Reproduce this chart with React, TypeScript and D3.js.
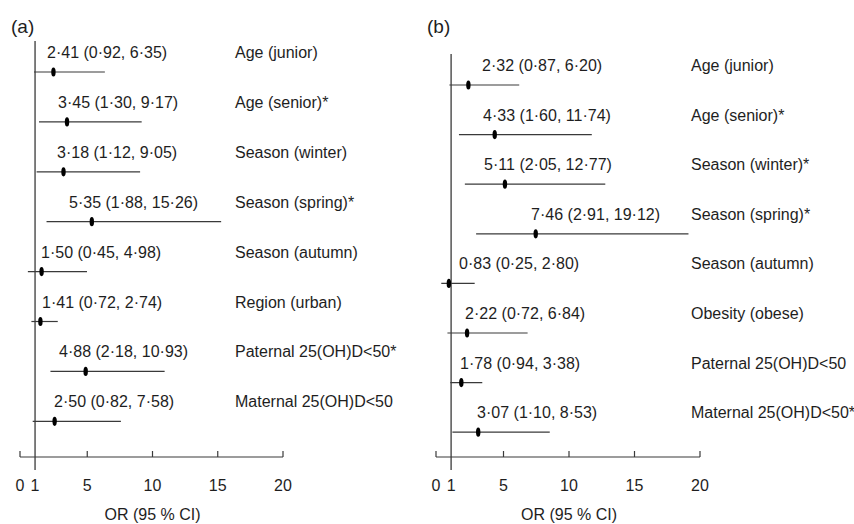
import React from "react"
import * as d3 from "d3"

// panel (a)
const labelsA = [
  "Age (junior)",
  "Age (senior)*",
  "Season (winter)",
  "Season (spring)*",
  "Season (autumn)",
  "Region (urban)",
  "Paternal 25(OH)D<50*",
  "Maternal 25(OH)D<50",
]
const orA = [2.41, 3.45, 3.18, 5.35, 1.5, 1.41, 4.88, 2.5]
const lowA = [0.92, 1.3, 1.12, 1.88, 0.45, 0.72, 2.18, 0.82]
const highA = [6.35, 9.17, 9.05, 15.26, 4.98, 2.74, 10.93, 7.58]

// panel (b)
const labelsB = [
  "Age (junior)",
  "Age (senior)*",
  "Season (winter)*",
  "Season (spring)*",
  "Season (autumn)",
  "Obesity (obese)",
  "Paternal 25(OH)D<50",
  "Maternal 25(OH)D<50*",
]
const orB = [2.32, 4.33, 5.11, 7.46, 0.83, 2.22, 1.78, 3.07]
const lowB = [0.87, 1.6, 2.05, 2.91, 0.25, 0.72, 0.94, 1.1]
const highB = [6.2, 11.74, 12.77, 19.12, 2.8, 6.84, 3.38, 8.53]

const tickValues = [0, 5, 10, 15, 20]
const tickLabels = [0, 1, 5, 10, 15, 20]

// small pixel nudges for the value texts (from the reference layout)
const nudgeA = [12, 23, 22, 34, 6, 7, 24, 19]
const nudgeB = [31, 32, 33, 80, 8, 14, 9, 26]

const fmt = (v: number) => v.toFixed(2).replace(".", "\u00b7")

const FONT = "'Liberation Sans', Arial, Helvetica, sans-serif"
const LINE = "#3a3a3a"
const TEXT = "#1e1e1e"

type PanelProps = {
  tag: string
  left: number
  right: number
  firstRow: number
  rowStep: number
  labelX: number
  labels: string[]
  or: number[]
  low: number[]
  high: number[]
  nudge: number[]
}

function Panel(p: PanelProps) {
  const axisY = 457
  const x = d3.scaleLinear().domain([0, 20]).range([p.left, p.right])
  const y = (i: number) => p.firstRow + i * p.rowStep
  const x1 = x(1)
  return (
    <g fontFamily={FONT} fill={TEXT}>
      <text x={p.left - 11} y={33} fontSize={19}>{p.tag}</text>
      {/* reference line at OR = 1 */}
      <line x1={x1} x2={x1} y1={y(0) - 31} y2={axisY + 13} stroke={LINE} strokeWidth={1.3} />
      {p.labels.map((lab, i) => (
        <g key={lab}>
          <line x1={x(p.low[i])} x2={x(p.high[i])} y1={y(i)} y2={y(i)} stroke={LINE} strokeWidth={1.2} />
          <ellipse cx={x(p.or[i])} cy={y(i)} rx={2.2} ry={4.6} fill="#000" />
          <text x={x1 + p.nudge[i]} y={y(i) - 14} fontSize={16}>
            {`${fmt(p.or[i])} (${fmt(p.low[i])}, ${fmt(p.high[i])})`}
          </text>
          <text x={p.labelX} y={y(i) - 14} fontSize={16}>{lab}</text>
        </g>
      ))}
      {/* x axis */}
      <line x1={x(0) - 2} x2={x(20)} y1={axisY} y2={axisY} stroke={LINE} strokeWidth={1.2} />
      {tickValues.map((t) => (
        <line key={t} x1={x(t) - (t === 0 ? 2 : 0)} x2={x(t) - (t === 0 ? 2 : 0)} y1={axisY} y2={axisY - 6} stroke={LINE} strokeWidth={1.2} />
      ))}
      {tickLabels.map((t) => (
        <text key={t} x={x(t) + (t === 0 ? -2 : 0)} y={491} fontSize={16} textAnchor="middle">{t}</text>
      ))}
      <text x={x(10)} y={520} fontSize={16} textAnchor="middle">OR (95 % CI)</text>
    </g>
  )
}

export default function App() {
  return (
    <svg width={854} height={524} style={{ position: "absolute", left: 0, top: 0, background: "#fff" }}>
      <Panel tag="(a)" left={22} right={283} firstRow={72} rowStep={49.9} labelX={235}
        labels={labelsA} or={orA} low={lowA} high={highA} nudge={nudgeA} />
      <Panel tag="(b)" left={438} right={700} firstRow={85} rowStep={49.6} labelX={691}
        labels={labelsB} or={orB} low={lowB} high={highB} nudge={nudgeB} />
    </svg>
  )
}
